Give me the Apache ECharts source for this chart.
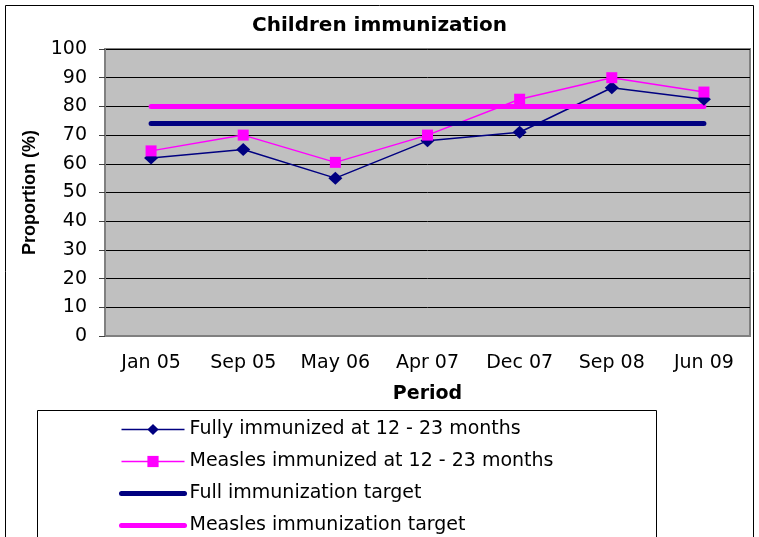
<!DOCTYPE html>
<html>
<head>
<meta charset="utf-8">
<title>Children immunization</title>
<script src="https://cdn.jsdelivr.net/npm/echarts@6/dist/echarts.min.js"></script>
<style>
    html, body { margin: 0; padding: 0; background: #ffffff; }
    #diagram { width: 759px; height: 537px; }
</style>
</head>
<body>
<div id="diagram"></div>
<script>
// categories on the x axis
var periods = ['Jan 05', 'Sep 05', 'May 06', 'Apr 07', 'Dec 07', 'Sep 08', 'Jun 09'];

// proportion (%)
var fullyImmunized   = [62, 65, 55, 68, 71, 86.5, 82.5];
var measlesImmunized = [64.5, 70, 60.5, 70, 82.5, 90, 85];

// targets (flat lines)
var fullTarget    = [74, 74, 74, 74, 74, 74, 74];
var measlesTarget = [80, 80, 80, 80, 80, 80, 80];

// y axis ticks
var yMin = 0;
var yMax = 100;
var yStep = 10;

window.onload = function () {

    // init echarts instance on the prepared dom
    var diagram = echarts.init(document.getElementById('diagram'));

    var navy = '#000080';
    var pink = '#FF00FF';
    var font = 'DejaVu Sans';

    var option = {
        animation: false,
        title: {
            text: 'Children immunization',
            left: 'center',
            top: 11,
            textStyle: {
                fontFamily: font,
                fontSize: 20,
                fontWeight: 'bold',
                color: '#000'
            }
        },
        // outer chart frame and legend frame
        graphic: [
            {
                type: 'rect',
                shape: { x: 5.5, y: 5.5, width: 748, height: 545 },
                style: { fill: null, stroke: '#000', lineWidth: 1 },
                silent: true
            },
            {
                type: 'rect',
                shape: { x: 37.5, y: 410.5, width: 619, height: 140 },
                style: { fill: '#fff', stroke: '#000', lineWidth: 1 },
                silent: true
            }
        ],
        legend: {
            orient: 'vertical',
            left: 119,
            top: 420,
            padding: 0,
            itemWidth: 63,
            itemHeight: 14,
            itemGap: 13,
            lineStyle: { width: 'inherit' },
            textStyle: {
                fontFamily: font,
                fontSize: 19,
                color: '#000'
            },
            data: [
                { name: 'Fully immunized at 12 - 23 months' },
                { name: 'Measles immunized at 12 - 23 months' },
                // target lines have no marker in the legend
                { name: 'Full immunization target', itemStyle: { opacity: 0 } },
                { name: 'Measles immunization target', itemStyle: { opacity: 0 } }
            ]
        },
        grid: {
            left: 105,
            right: 9,
            top: 49,
            bottom: 201,
            show: true,
            backgroundColor: '#C0C0C0',
            borderColor: '#808080',
            borderWidth: 2
        },
        xAxis: {
            type: 'category',
            data: periods,
            boundaryGap: true,
            name: 'Period',
            nameLocation: 'middle',
            nameGap: 49,
            nameTextStyle: {
                fontFamily: font,
                fontSize: 19,
                fontWeight: 'bold',
                color: '#000'
            },
            axisLine: { lineStyle: { color: '#808080', width: 2 } },
            axisTick: { length: 6, lineStyle: { color: '#404040' } },
            axisLabel: {
                fontFamily: font,
                fontSize: 19,
                color: '#000',
                margin: 18
            }
        },
        yAxis: {
            type: 'value',
            min: yMin,
            max: yMax,
            interval: yStep,
            name: 'Proportion (%)',
            nameLocation: 'middle',
            nameRotate: 90,
            nameGap: 66,
            nameTextStyle: {
                fontFamily: 'Liberation Sans',
                fontSize: 18,
                fontWeight: 'bold',
                color: '#000'
            },
            axisLine: { show: true, lineStyle: { color: '#808080', width: 2 } },
            axisTick: { show: true, length: 6, lineStyle: { color: '#404040' } },
            axisLabel: {
                fontFamily: font,
                fontSize: 19,
                color: '#000',
                margin: 18
            },
            splitLine: { lineStyle: { color: '#000', width: 1 } }
        },
        series: [
            {
                name: 'Fully immunized at 12 - 23 months',
                type: 'line',
                data: fullyImmunized,
                symbol: 'diamond',
                symbolSize: [14, 13],
                itemStyle: { color: navy },
                lineStyle: { color: navy, width: 1.5 }
            },
            {
                name: 'Measles immunized at 12 - 23 months',
                type: 'line',
                data: measlesImmunized,
                symbol: 'rect',
                symbolSize: 11,
                itemStyle: { color: pink },
                lineStyle: { color: pink, width: 1.5 }
            },
            {
                name: 'Full immunization target',
                type: 'line',
                data: fullTarget,
                symbol: 'none',
                itemStyle: { color: navy },
                lineStyle: { color: navy, width: 5, cap: 'round' }
            },
            {
                name: 'Measles immunization target',
                type: 'line',
                data: measlesTarget,
                symbol: 'none',
                itemStyle: { color: pink },
                lineStyle: { color: pink, width: 5, cap: 'round' }
            }
        ]
    };    // option end

    diagram.setOption(option, true);
};
</script>
</body>
</html>
